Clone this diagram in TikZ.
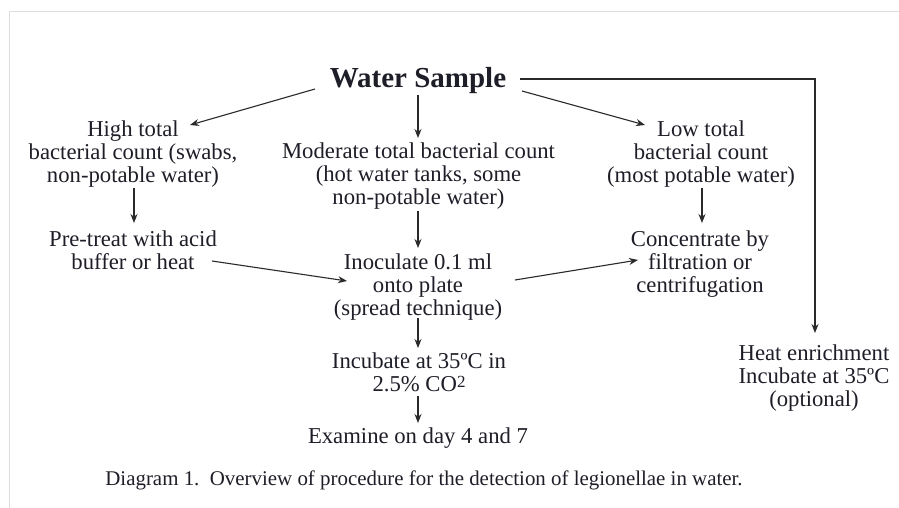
\documentclass[tikz,border=0pt]{standalone}
\usepackage{fontspec}
\setmainfont{Liberation Serif}
\usetikzlibrary{calc,arrows.meta}
\definecolor{txt}{HTML}{1E1E28}
\definecolor{ln}{HTML}{2A2A2A}
\definecolor{frame}{HTML}{DEDEDE}
\tikzset{
  blk/.style={anchor=north, align=center, inner sep=0pt, text=txt,
    font=\fontsize{22.7}{22.9}\selectfont},
  arr/.style={draw=ln, line width=1.1pt, -{Stealth[length=9pt,width=7pt]}},
  plain/.style={draw=ln, line width=1.1pt}
}
\begin{document}
\begin{tikzpicture}[x=1pt,y=-1pt]
\useasboundingbox (0,0) rectangle (899,508);
\fill[white] (0,0) rectangle (899,508);
\coordinate (fr1) at (9,508);
\coordinate (fr2) at (9,12);
\coordinate (fr3) at (899,12);
\draw[frame, line width=1pt] (fr1) -- (fr2) -- (fr3);

\node[anchor=base, inner sep=0pt, text=txt, font=\fontsize{29}{30}\selectfont\bfseries] (ws) at (418,88) {Water Sample};

\node[blk] (high) at (133,120.5) {High total\\bacterial count (swabs,\\non-potable water)};
\node[blk] (mod) at (418.5,142.5) {Moderate total bacterial count\\(hot water tanks, some\\non-potable water)};
\node[blk] (low) at (701,120.5) {Low total\\bacterial count\\(most potable water)};
\node[blk] (pre) at (133,230.5) {Pre-treat with acid\\buffer or heat};
\node[blk] (inoc) at (418,253.5) {Inoculate 0.1 ml\\onto plate\\(spread technique)};
\node[blk] (conc) at (700,230.5) {Concentrate by\\filtration or\\centrifugation};
\node[blk] (incub) at (419,352.5) {Incubate at 35ºC in\\2.5\% CO\raisebox{4pt}{\fontsize{17}{17}\selectfont 2}};
\node[blk] (heat) at (814,344.5) {Heat enrichment\\Incubate at 35ºC\\(optional)};
\node[blk] (exam) at (418,427.5) {Examine on day 4 and 7};

\node[anchor=base, inner sep=0pt, text=txt, font=\fontsize{20.9}{22}\selectfont] (cap) at (424,485) {Diagram 1.\ \ Overview of procedure for the detection of legionellae in water.};

\draw[arr] ($(ws.base)+(-103,1)$) -- ($(high.north)+(57,4.5)$);
\draw[arr] ($(ws.base)+(0,7)$) -- ($(mod.north)+(-0.5,-4.5)$);
\draw[arr] ($(ws.base)+(104,3)$) -- ($(low.north)+(-56,4.5)$);
\draw[arr] ($(ws.base)+(102,-9)$) -| ($(heat.north)+(1,-11.5)$);

\draw[arr] ($(high.north)+(1,67.5)$) -- ($(pre.north)+(1,-7.5)$);
\draw[arr] ($(mod.north)+(-0.5,68.5)$) -- ($(inoc.north)+(0,-5.5)$);
\draw[arr] ($(low.north)+(1,67.5)$) -- ($(conc.north)+(2,-7.5)$);

\draw[arr] ($(pre.north)+(79,30.5)$) -- ($(inoc.north)+(-71,27.5)$);
\draw[arr] ($(inoc.north)+(97,26.5)$) -- ($(conc.north)+(-62,29.5)$);

\draw[arr] ($(inoc.north)+(0,64.5)$) -- ($(incub.north)+(-1,-4.5)$);
\draw[arr] ($(incub.north)+(-1,43.5)$) -- ($(exam.north)+(0,-4.5)$);
\end{tikzpicture}
\end{document}
